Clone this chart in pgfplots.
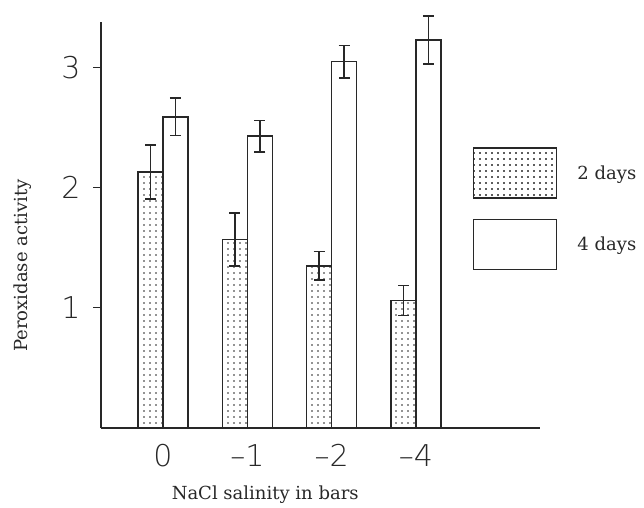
\documentclass[border=0pt]{standalone}
\usepackage{pgfplots}
\pgfplotsset{compat=1.18}
\usetikzlibrary{patterns.meta}
\usepackage{fontspec}
\setmainfont{DejaVu Serif}
\newfontfamily\ticksf{DejaVu Sans ExtraLight}
\definecolor{ink}{RGB}{40,40,40}
\begin{document}
\begin{tikzpicture}
\useasboundingbox (0,0) rectangle (644pt,507pt);
\begin{axis}[
  at={(101pt,79pt)}, anchor=south west,
  scale only axis, width=439pt, height=406pt,
  xmin=-0.735, xmax=4.47, ymin=0, ymax=3.38,
  clip=false,
  axis x line=bottom, axis y line=left,
  axis line style={-, line width=1.6pt, ink},
  ybar, bar width=0.295,
  xtick=data, xticklabels={0,–1,–2,–4},
  ytick={1,2,3}, yticklabels={1,2,3},
  tick align=outside, major tick length=8pt,
  xtick style={draw=none},
  ytick style={line width=1.2pt, ink},
  ticklabel style={font=\ticksf\fontsize{30}{30}\selectfont, text=ink},
  yticklabel style={xshift=-9pt},
  xticklabel style={yshift=-5pt},
  xlabel={NaCl salinity in bars},
  ylabel={Peroxidase activity},
  label style={font=\fontsize{18}{18}\selectfont, text=ink},
  xlabel style={at={(axis description cs:0.374,-0.163)}, anchor=center},
  ylabel style={at={(axis description cs:-0.178,0.40)}, anchor=center},
  legend style={at={(axis description cs:0.847,0.692)}, anchor=north west,
    draw=none, fill=none, inner sep=0pt, row sep=20pt,
    font=\fontsize{18}{18}\selectfont, text=ink,
    /tikz/every even column/.append style={column sep=0pt}},
  error bars/y dir=both, error bars/y explicit,
  error bars/error bar style={line width=1.6pt, ink},
  error bars/error mark options={rotate=90, line width=1.6pt, mark size=5.5pt, ink},
]
\addplot[draw=ink, line width=1.4pt, fill=white,
  postaction={pattern={Dots[distance=6pt, radius=0.9pt]}, pattern color=ink},
  bar shift=-0.1475,
  legend image code/.code={\draw[draw=ink, line width=1.4pt, fill=white, postaction={pattern={Dots[distance=6pt, radius=0.9pt]}, pattern color=ink}] (0pt,-25pt) rectangle (83pt,25pt);}]
coordinates {(0,2.13) +- (0,0.225) (1,1.57) +- (0,0.22) (2,1.35) +- (0,0.12) (3,1.06) +- (0,0.125)};
\addlegendentry{\hspace*{18pt}2 days}
\addplot[draw=ink, line width=1.4pt, fill=white,
  bar shift=0.1475,
  legend image code/.code={\draw[draw=ink, line width=1.4pt, fill=white] (0pt,-25pt) rectangle (83pt,25pt);}]
coordinates {(0,2.59) +- (0,0.155) (1,2.43) +- (0,0.13) (2,3.05) +- (0,0.135) (3,3.23) +- (0,0.20)};
\addlegendentry{\hspace*{18pt}4 days}
\end{axis}
\end{tikzpicture}
\end{document}
